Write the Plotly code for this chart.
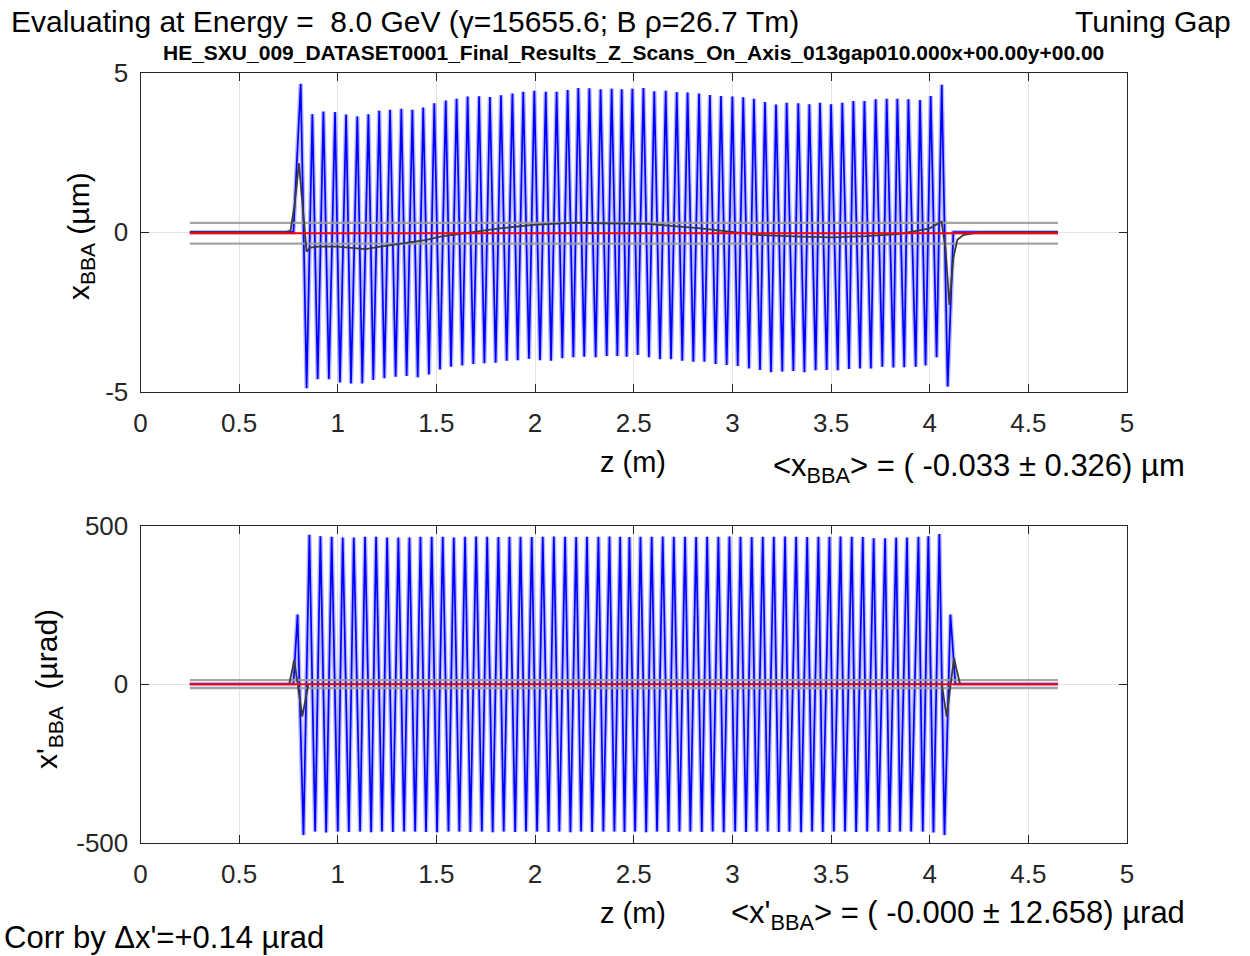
import plotly.graph_objects as go

W, H = 1250, 956

# ---------------- tick definitions ----------------
z_ticks = [0, 0.5, 1, 1.5, 2, 2.5, 3, 3.5, 4, 4.5, 5]
z_tick_labels = ["0", "0.5", "1", "1.5", "2", "2.5", "3", "3.5", "4", "4.5", "5"]
x_ticks = [-5, 0, 5]
x_tick_labels = ["-5", "0", "5"]
xp_ticks = [-500, 0, 500]
xp_tick_labels = ["-500", "0", "500"]

# ---------------- top panel: x_BBA (um) ----------------
x_lead_z = [0.25, 0.775]
x_lead_v = [0.0, 0.0]
x_peak_z = [0.812, 0.871, 0.927, 0.986, 1.042, 1.099, 1.155, 1.210, 1.265, 1.322,
            1.378, 1.433, 1.489, 1.547, 1.602, 1.658, 1.716, 1.771, 1.827, 1.885,
            1.940, 1.996, 2.054, 2.109, 2.165, 2.219, 2.275, 2.332, 2.388, 2.439,
            2.493, 2.549, 2.604, 2.662, 2.718, 2.773, 2.831, 2.886, 2.942, 3.000,
            3.055, 3.109, 3.165, 3.221, 3.275, 3.334, 3.390, 3.444, 3.500, 3.557,
            3.613, 3.669, 3.726, 3.782, 3.836, 3.892, 3.951, 4.005, 4.061]
x_peak_v = [4.65, 3.70, 3.78, 3.77, 3.69, 3.63, 3.70, 3.81, 3.84, 3.87,
            3.84, 3.91, 4.04, 4.13, 4.18, 4.25, 4.26, 4.24, 4.29, 4.35,
            4.40, 4.43, 4.40, 4.40, 4.46, 4.52, 4.51, 4.48, 4.50, 4.48,
            4.50, 4.52, 4.42, 4.43, 4.39, 4.38, 4.35, 4.30, 4.27, 4.25,
            4.23, 4.18, 4.08, 4.00, 4.06, 4.04, 4.01, 4.06, 4.01, 4.06,
            4.11, 4.11, 4.17, 4.18, 4.18, 4.17, 4.14, 4.27, 4.62]
x_trough_z = [0.842, 0.898, 0.955, 1.011, 1.067, 1.124, 1.180, 1.236, 1.293, 1.349,
              1.405, 1.462, 1.518, 1.574, 1.631, 1.687, 1.743, 1.800, 1.856, 1.912,
              1.969, 2.025, 2.081, 2.138, 2.194, 2.249, 2.307, 2.363, 2.417, 2.464,
              2.520, 2.577, 2.633, 2.689, 2.746, 2.802, 2.858, 2.915, 2.971, 3.027,
              3.084, 3.140, 3.196, 3.253, 3.309, 3.365, 3.422, 3.478, 3.534, 3.591,
              3.647, 3.702, 3.760, 3.816, 3.871, 3.929, 3.979, 4.035, 4.091]
x_trough_v = [-4.89, -4.61, -4.61, -4.71, -4.74, -4.74, -4.63, -4.58, -4.53, -4.51,
              -4.55, -4.46, -4.30, -4.22, -4.18, -4.13, -4.11, -4.09, -4.03, -4.01,
              -3.97, -4.01, -4.03, -3.95, -3.92, -3.90, -3.92, -3.88, -3.88, -3.90,
              -3.85, -3.92, -3.98, -3.98, -4.03, -4.06, -4.06, -4.13, -4.16, -4.19,
              -4.27, -4.32, -4.39, -4.37, -4.35, -4.39, -4.33, -4.32, -4.33, -4.29,
              -4.27, -4.27, -4.22, -4.24, -4.23, -4.22, -4.18, -3.92, -4.84]
x_tail_z = [4.12, 4.65]
x_tail_v = [0.0, 0.0]

# smoothed (period-averaged) trajectory, dark line
x_avg_z = [0.25, 0.74, 0.76, 0.78, 0.803, 0.825, 0.842, 0.86, 0.90, 1.00, 1.11, 1.14,
           1.20, 1.30, 1.45, 1.52, 1.65, 1.82, 1.99, 2.21, 2.33, 2.57, 2.84, 3.00,
           3.14, 3.34, 3.51, 3.68, 3.85, 4.00, 4.06, 4.08, 4.10, 4.12, 4.14, 4.17,
           4.25, 4.65]
x_avg_v = [0.0, 0.0, 0.05, 0.8, 2.16, 0.5, -0.61, -0.48, -0.45, -0.45, -0.53, -0.53,
           -0.47, -0.37, -0.24, -0.14, -0.02, 0.12, 0.23, 0.30, 0.28, 0.26, 0.12, 0.02,
           -0.09, -0.14, -0.16, -0.12, -0.05, 0.12, 0.33, -0.5, -2.28, -0.8, -0.24, -0.09,
           0.0, 0.0]

x_mean = -0.033
x_std = 0.326
line_z = [0.25, 4.65]

# ---------------- bottom panel: x'_BBA (urad) ----------------
xp_lead_z = [0.25, 0.775]
xp_lead_v = [0.0, 0.0]
xp_peak_z = [0.796, 0.856, 0.912, 0.969, 1.025, 1.081, 1.138, 1.194, 1.250, 1.307,
             1.363, 1.419, 1.476, 1.532, 1.588, 1.645, 1.701, 1.757, 1.814, 1.870,
             1.926, 1.983, 2.039, 2.095, 2.152, 2.208, 2.263, 2.321, 2.377, 2.431,
             2.478, 2.534, 2.591, 2.647, 2.703, 2.760, 2.816, 2.872, 2.929, 2.985,
             3.041, 3.098, 3.154, 3.210, 3.267, 3.323, 3.379, 3.436, 3.492, 3.548,
             3.605, 3.661, 3.716, 3.774, 3.830, 3.885, 3.943, 3.993, 4.049, 4.105]
xp_peak_v = [220, 471, 467, 465, 463, 463, 465, 465, 463, 463,
             463, 465, 465, 465, 463, 465, 466, 465, 464, 465,
             465, 464, 465, 466, 465, 464, 465, 465, 466, 465,
             464, 465, 465, 466, 465, 465, 464, 465, 465, 466,
             465, 464, 465, 465, 466, 465, 464, 465, 465, 466,
             465, 464, 460, 460, 463, 463, 465, 467, 474, 220]
xp_trough_z = [0.826, 0.885, 0.941, 1.000, 1.056, 1.113, 1.169, 1.224, 1.279, 1.336,
               1.392, 1.447, 1.503, 1.561, 1.616, 1.672, 1.730, 1.785, 1.841, 1.899,
               1.954, 2.010, 2.068, 2.123, 2.179, 2.233, 2.289, 2.346, 2.402, 2.453,
               2.507, 2.563, 2.618, 2.676, 2.732, 2.787, 2.845, 2.900, 2.956, 3.014,
               3.069, 3.123, 3.179, 3.235, 3.289, 3.348, 3.404, 3.458, 3.514, 3.571,
               3.627, 3.683, 3.740, 3.796, 3.850, 3.906, 3.965, 4.019, 4.075]
xp_trough_v = [-476, -465, -468, -465, -466, -465, -467, -465, -466, -465,
               -465, -466, -467, -465, -465, -466, -465, -467, -465, -466,
               -465, -465, -466, -465, -467, -465, -466, -465, -465, -466,
               -465, -467, -465, -466, -465, -465, -466, -465, -467, -465,
               -466, -465, -465, -466, -465, -467, -465, -466, -465, -465,
               -466, -465, -465, -466, -465, -465, -465, -468, -476]
xp_tail_z = [4.13, 4.65]
xp_tail_v = [0.0, 0.0]

xp_avg_z = [0.25, 0.754, 0.779, 0.796, 0.820, 0.851, 4.061, 4.086, 4.106, 4.123, 4.154, 4.65]
xp_avg_v = [0, 0, 76, 0, -102, 0, 0, -102, 0, 82, 0, 0]

xp_mean = -0.000
xp_std = 12.658

# ---------------- texts ----------------
title_text = "Evaluating at Energy = \u00a08.0 GeV (γ=15655.6; B ρ=26.7 Tm)"
right_title = "Tuning Gap"
subtitle_text = "HE_SXU_009_DATASET0001_Final_Results_Z_Scans_On_Axis_013gap010.000x+00.00y+00.00"
ylab_top = "x<sub>BBA</sub> (µm)"
ylab_bot = "x'<sub>BBA</sub>\u00a0 (µrad)"
xlab = "z (m)"
stat_top = "&lt;x<sub>BBA</sub>&gt; = ( -0.033 ± 0.326) µm"
stat_bot = "&lt;x'<sub>BBA</sub>&gt; = ( -0.000 ± 12.658) µrad"
corr_text = "Corr by Δx'=+0.14 µrad"


def alternate(a, b):
    out = []
    for i in range(max(len(a), len(b))):
        if i < len(a):
            out.append(a[i])
        if i < len(b):
            out.append(b[i])
    return out


top_z = x_lead_z + alternate(x_peak_z, x_trough_z) + x_tail_z
top_v = x_lead_v + alternate(x_peak_v, x_trough_v) + x_tail_v
bot_z = xp_lead_z + alternate(xp_peak_z, xp_trough_z) + xp_tail_z
bot_v = xp_lead_v + alternate(xp_peak_v, xp_trough_v) + xp_tail_v

BLUE = "#0000ff"
HALO = "rgba(70,70,255,0.38)"
GRAY = "#9a9a9a"
DARK = "#3a3a3a"
RED = "#ff0000"

fig = go.Figure()


def add_panel(xa, ya, z, v, az, av, mean, std):
    fig.add_trace(go.Scatter(x=z, y=v, mode="lines", line=dict(color=HALO, width=4.5),
                             xaxis=xa, yaxis=ya, showlegend=False, hoverinfo="skip"))
    fig.add_trace(go.Scatter(x=z, y=v, mode="lines", line=dict(color=BLUE, width=1.7),
                             xaxis=xa, yaxis=ya, showlegend=False))
    for val in (mean + std, mean - std):
        fig.add_trace(go.Scatter(x=line_z, y=[val, val], mode="lines",
                                 line=dict(color=GRAY, width=2.2), opacity=0.9,
                                 xaxis=xa, yaxis=ya, showlegend=False))
    fig.add_trace(go.Scatter(x=az, y=av, mode="lines", line=dict(color=DARK, width=1.8),
                             xaxis=xa, yaxis=ya, showlegend=False))
    fig.add_trace(go.Scatter(x=line_z, y=[mean, mean], mode="lines",
                             line=dict(color=RED, width=2),
                             xaxis=xa, yaxis=ya, showlegend=False))


add_panel("x", "y", top_z, top_v, x_avg_z, x_avg_v, x_mean, x_std)
add_panel("x2", "y2", bot_z, bot_v, xp_avg_z, xp_avg_v, xp_mean, xp_std)

FONT = "Liberation Sans, Arial, Helvetica, sans-serif"
AXC = "#262626"


def px2x(px):
    return px / W


def py2y(py):
    return 1 - py / H


common = dict(showline=True, linecolor=AXC, linewidth=1, mirror="allticks",
              ticks="inside", ticklen=8, tickcolor=AXC, tickwidth=1,
              showgrid=True, gridcolor="#e4e4e4", gridwidth=1, zeroline=False,
              automargin=False,
              tickfont=dict(family=FONT, size=26, color=AXC), fixedrange=True)

xd = [px2x(140.5), px2x(1127)]
fig.update_layout(
    template="none",
    width=W, height=H, margin=dict(l=0, r=0, t=0, b=0, pad=0, autoexpand=False),
    paper_bgcolor="white", plot_bgcolor="white", showlegend=False,
    xaxis=dict(domain=xd, range=[0, 5], tickvals=z_ticks, ticktext=z_tick_labels,
               anchor="y", ticklabelstandoff=8, **common),
    yaxis=dict(domain=[py2y(391.7), py2y(72.7)], range=[-5, 5], tickvals=x_ticks,
               ticktext=x_tick_labels, anchor="x", ticklabelstandoff=6, **common),
    xaxis2=dict(domain=xd, range=[0, 5], tickvals=z_ticks, ticktext=z_tick_labels,
                anchor="y2", ticklabelstandoff=8, **common),
    yaxis2=dict(domain=[py2y(842.7), py2y(525.7)], range=[-500, 500], tickvals=xp_ticks,
                ticktext=xp_tick_labels, anchor="x2", ticklabelstandoff=6, **common),
)


def ann(text, px, py, xa="left", ya="middle", size=24, bold=False, angle=0):
    t = f"<b>{text}</b>" if bold else text
    return dict(text=t, x=px2x(px), y=py2y(py), xref="paper", yref="paper",
                xanchor=xa, yanchor=ya, showarrow=False, textangle=angle,
                font=dict(family=FONT, size=size, color="black"))


annotations = [
    ann(title_text, 9, 22, "left", "middle", 30),
    ann(right_title, 1233, 22, "right", "middle", 30),
    ann(subtitle_text, 633, 53, "center", "middle", 21, bold=True),
    ann(ylab_top, 80, 236, "center", "middle", 30, angle=-90),
    ann(ylab_bot, 48, 689, "center", "middle", 30, angle=-90),
    ann(xlab, 633, 462, "center", "middle", 29),
    ann(xlab, 633, 913, "center", "middle", 29),
    ann(stat_top, 771, 468, "left", "middle", 31),
    ann(stat_bot, 729, 915, "left", "middle", 31),
    ann(corr_text, 2, 937, "left", "middle", 31),
]
fig.update_layout(annotations=annotations)

fig.write_html("out.html",
               config={"displayModeBar": False, "staticPlot": True},
               post_script="document.body.style.margin='0';document.body.style.padding='0';")
